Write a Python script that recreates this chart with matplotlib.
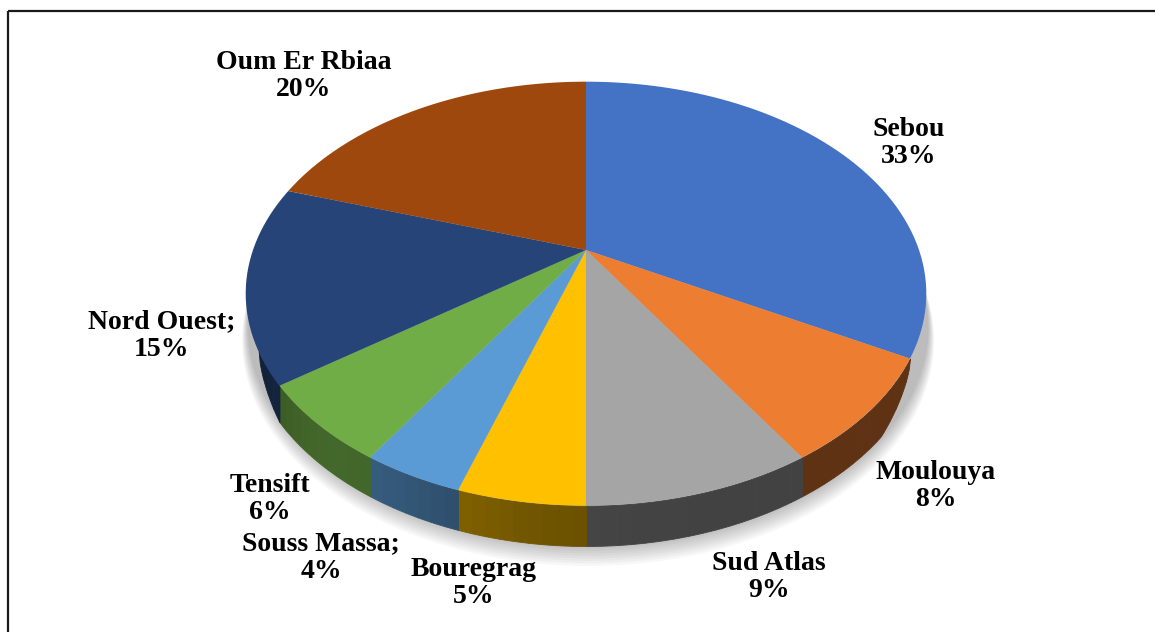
import numpy as np
import matplotlib
matplotlib.use("Agg")
import matplotlib.pyplot as plt
from matplotlib.transforms import Transform, Affine2D
from matplotlib.path import Path
from matplotlib.patches import Circle, Rectangle
from matplotlib.colors import to_rgb

# data, clockwise from 12 o'clock
basins = ['Sebou', 'Moulouya', 'Sud Atlas', 'Bouregrag', 'Souss Massa', 'Tensift', 'Nord Ouest', 'Oum Er Rbiaa']
shares = [33, 8, 9, 5, 4, 6, 15, 20]
colors = ['#4472C4', '#ED7D31', '#A5A5A5', '#FFC000', '#5B9BD5', '#70AD47', '#264478', '#9E480E']
seps = ['', '', '', '', ';', '', ';', '']

# label centres in pixels (layout only)
label_xy = [(909, 143), (936, 486), (769, 577), (474, 583), (321, 558), (270, 499), (162, 336), (304, 76)]

# view of the tilted pie, in pixels
CX, CY = 586, 250
RX, RY = 333, 203
PERSP = 0.206
DEPTH = 32
WALL_FROM, WALL_TO = -153.0, -28.8   # part of the rim whose side shows
TAPER_L, TAPER_R = 9.0, 11.0         # side fades in at both silhouette ends


class PieView(Transform):
    """unit-circle coords -> pixels, with a simple perspective.
    polar=True takes (angle in degrees, height) instead of (x, y)."""
    input_dims = output_dims = 2

    def __init__(self, z=0.0, polar=False):
        super().__init__()
        self.z = z
        self.polar = polar

    def transform_non_affine(self, values):
        v = np.asarray(values, dtype=float)
        if self.polar:
            t = np.radians(v[:, 0])
            x, y, z = np.cos(t), np.sin(t), v[:, 1]
        else:
            x, y, z = v[:, 0], v[:, 1], self.z
        w = 1 + PERSP * y
        return np.column_stack([CX + RX * x / w, CY - (RY * y + DEPTH * z) / w])

    def transform_path_non_affine(self, path):
        if self.polar:
            return Path(self.transform_non_affine(path.vertices), path.codes)
        # flatten the arcs before bending them
        polys = path.transformed(Affine2D().scale(500)).to_polygons(closed_only=True)
        parts = [Path(self.transform_non_affine(p / 500.0)) for p in polys]
        return Path.make_compound_path(*parts)


def wall_height(th):
    left = np.clip((th - WALL_FROM) / TAPER_L, 0, 1)
    right = np.clip((WALL_TO - th) / TAPER_R, 0, 1)
    return -np.sqrt(left * right)


fig = plt.figure(figsize=(11.55, 6.32), dpi=100)
ax = fig.add_axes([0, 0, 1, 1])

# soft shadow under the pie
for i in range(9):
    sh = Circle((0.006, 0), 1.0 + 0.002 * i, color='#000000', alpha=0.03, lw=0, zorder=1)
    ax.add_patch(sh)
    sh.set_transform(PieView(z=-1.0 - 0.045 * i) + ax.transData)

# side walls (front part only)
wall = PieView(polar=True) + ax.transData
bounds = 90 - 360 * np.concatenate([[0], np.cumsum(shares)]) / sum(shares)
for i, col in enumerate(colors):
    hi = min(bounds[i], WALL_TO)
    lo = max(bounds[i + 1], WALL_FROM)
    if lo >= hi:
        continue
    edges = np.linspace(lo, hi, max(2, int((hi - lo) / 2) + 1))
    base = np.array(to_rgb(col))
    for a, b in zip(edges[:-1], edges[1:]):
        mid = 0.5 * (a + b)
        shade = 0.40 + 0.2 * np.exp(-((mid + 128) / 25) ** 2)
        c = base * shade
        th = np.linspace(a, b, 5)
        ax.fill_between(th, wall_height(th), 0.0, color=c, ec=c, lw=0.6, zorder=2, transform=wall)

# top face
wedges, _ = ax.pie(shares, colors=colors, startangle=90, counterclock=False,
                   wedgeprops=dict(linewidth=0))
for w in wedges:
    w.set_zorder(3)
    w.set_transform(PieView() + ax.transData)

# data labels
for name, s, sep, (lx, ly) in zip(basins, shares, seps, label_xy):
    ax.text(lx, ly, f'{name}{sep}\n{s}%', ha='center', va='center', fontsize=20,
            fontweight='bold', family='Liberation Serif', linespacing=1.15, zorder=4)

# chart frame
ax.add_patch(Rectangle((8, 11), 1200, 700, fill=False, ec='#1a1a1a', lw=1.6, zorder=5))

ax.set_aspect('auto')
ax.set_xlim(0, 1155)
ax.set_ylim(632, 0)
ax.axis('off')

fig.savefig('out.png', dpi=100)
